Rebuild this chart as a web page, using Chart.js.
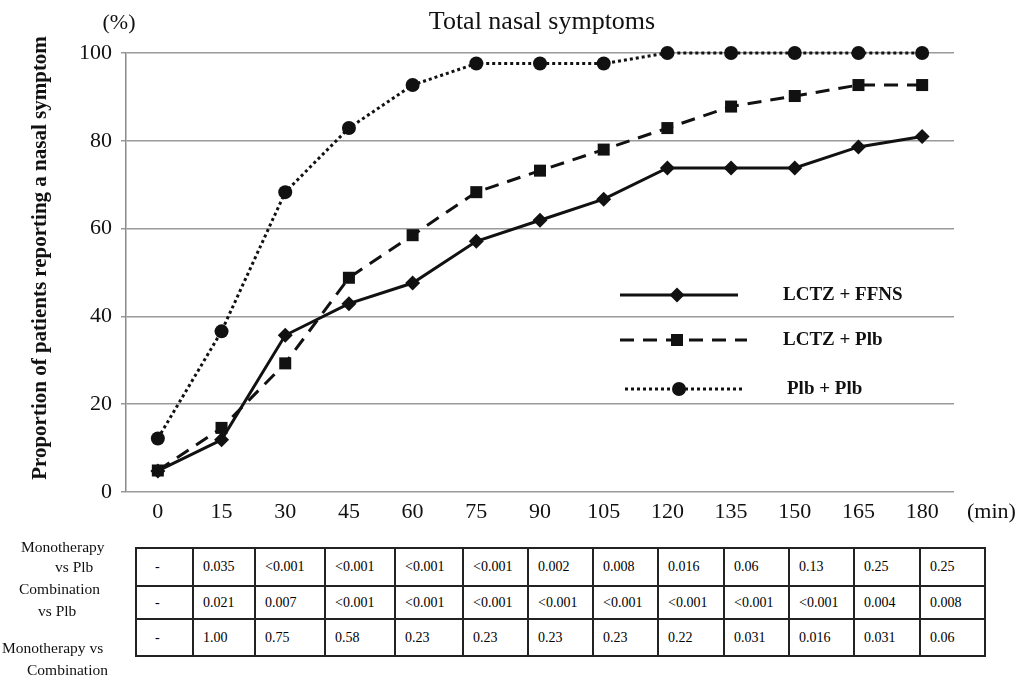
<!DOCTYPE html>
<html>
<head>
<meta charset="utf-8">
<title>Total nasal symptoms</title>
<script src="https://cdn.jsdelivr.net/npm/chart.js@4"></script>
<style>
  body { margin: 0; background: #fff; }
  #wrap { position: relative; width: 1033px; height: 681px; overflow: hidden; font-family: 'Liberation Serif', 'Times New Roman', serif; color: #111; }
  #chartBox { position: absolute; left: 0; top: 0; }
  #pTable { position: absolute; left: 135px; top: 547px; width: 849px; border-collapse: collapse; table-layout: fixed; font-size: 14px; color: #000; }
  #pTable td { border: 2px solid #222; padding: 0 0 0 9px; white-space: nowrap; }
  #pTable td:first-child { padding-left: 18px; }
  .rowLabel { position: absolute; font-size: 15.5px; white-space: nowrap; line-height: 1; }
</style>
</head>
<body>
<div id="wrap">
  <canvas id="chartBox" width="1033" height="540"></canvas>
  <table id="pTable"></table>
  <div id="rowLabels"></div>
</div>
<script>
// ── data ────────────────────────────────────────────────
const TIMES = ['0', '15', '30', '45', '60', '75', '90', '105', '120', '135', '150', '165', '180'];
const LCTZ_FFNS = [4.8, 11.9, 35.7, 42.9, 47.6, 57.1, 61.9, 66.7, 73.8, 73.8, 73.8, 78.6, 81.0];
const LCTZ_PLB  = [4.9, 14.6, 29.3, 48.8, 58.5, 68.3, 73.2, 78.0, 82.9, 87.8, 90.2, 92.7, 92.7];
const PLB_PLB   = [12.2, 36.6, 68.3, 82.9, 92.7, 97.6, 97.6, 97.6, 100, 100, 100, 100, 100];
const SERIES_NAMES = ['LCTZ + FFNS', 'LCTZ + Plb', 'Plb + Plb'];

const P_MONO_VS_PLB  = ['-', '0.035', '<0.001', '<0.001', '<0.001', '<0.001', '0.002', '0.008', '0.016', '0.06', '0.13', '0.25', '0.25'];
const P_COMBO_VS_PLB = ['-', '0.021', '0.007', '<0.001', '<0.001', '<0.001', '<0.001', '<0.001', '<0.001', '<0.001', '<0.001', '0.004', '0.008'];
const P_MONO_VS_COMBO = ['-', '1.00', '0.75', '0.58', '0.23', '0.23', '0.23', '0.23', '0.22', '0.031', '0.016', '0.031', '0.06'];
const ROW_LABELS = [['Monotherapy', 'vs Plb'], ['Combination', 'vs Plb'], ['Monotherapy vs', 'Combination']];

const SERIF = "'Liberation Serif', 'Times New Roman', serif";
const INK = '#111';

// ── p-value table (HTML) ────────────────────────────────
(() => {
  const colW = [57, 62, 70, 70, 68, 65, 65, 65, 66, 65, 65, 66, 65];
  const rowH = [38, 33, 37];
  const table = document.getElementById('pTable');
  const cg = document.createElement('colgroup');
  colW.forEach(w => { const c = document.createElement('col'); c.style.width = w + 'px'; cg.appendChild(c); });
  table.appendChild(cg);
  [P_MONO_VS_PLB, P_COMBO_VS_PLB, P_MONO_VS_COMBO].forEach((row, r) => {
    const tr = document.createElement('tr');
    tr.style.height = rowH[r] + 'px';
    row.forEach(v => { const td = document.createElement('td'); td.textContent = v; tr.appendChild(td); });
    table.appendChild(tr);
  });

  // row labels, line by line (left, top)
  const spots = [[[21, 539], [55, 559]], [[19, 581], [38, 603]], [[2, 640], [27, 662]]];
  const box = document.getElementById('rowLabels');
  ROW_LABELS.forEach((lines, r) => lines.forEach((t, k) => {
    const d = document.createElement('div');
    d.className = 'rowLabel';
    d.textContent = t;
    d.style.left = spots[r][k][0] + 'px';
    d.style.top = spots[r][k][1] + 'px';
    box.appendChild(d);
  }));
})();

// ── extra text + legend drawn on canvas ─────────────────
const decorations = {
  id: 'decorations',
  afterDraw(chart) {
    const ctx = chart.ctx;
    ctx.save();
    ctx.fillStyle = INK;
    ctx.textBaseline = 'middle';

    ctx.font = `26px ${SERIF}`;
    ctx.textAlign = 'center';
    ctx.fillText('Total nasal symptoms', 542, 22);

    ctx.font = `22px ${SERIF}`;
    ctx.fillText('(%)', 119, 23);
    ctx.textAlign = 'left';
    ctx.fillText('(min)', 967, 512);

    // y axis title
    ctx.save();
    ctx.translate(41, 258);
    ctx.rotate(-Math.PI / 2);
    ctx.textAlign = 'center';
    ctx.font = `bold 21px ${SERIF}`;
    ctx.fillText('Proportion of patients reporting a nasal symptom', 0, 0);
    ctx.restore();

    // legend
    const rows = [
      { y: 295, x0: 620, x1: 738, mx: 677, lx: 783 },
      { y: 340, x0: 620, x1: 747, mx: 677, lx: 783 },
      { y: 389, x0: 625, x1: 743, mx: 679, lx: 787 },
    ];
    chart.data.datasets.forEach((ds, i) => {
      const r = rows[i];
      ctx.save();
      ctx.strokeStyle = ds.borderColor;
      ctx.lineWidth = ds.borderWidth;
      ctx.setLineDash(ds.borderDash || []);
      ctx.beginPath();
      ctx.moveTo(r.x0, r.y);
      ctx.lineTo(r.x1, r.y);
      ctx.stroke();
      ctx.restore();
      Chart.helpers.drawPoint(ctx, {
        pointStyle: ds.pointStyle, radius: ds.pointRadius, borderWidth: 0, rotation: 0,
      }, r.mx, r.y);
      ctx.fillStyle = INK;
      ctx.textAlign = 'left';
      ctx.font = `bold 19px ${SERIF}`;
      ctx.fillText(ds.label, r.lx, r.y);
    });
    ctx.restore();
  },
};

// ── chart ───────────────────────────────────────────────
const lineDefaults = {
  borderColor: INK,
  backgroundColor: INK,
  pointBackgroundColor: INK,
  pointBorderWidth: 0,
  borderWidth: 3,
  tension: 0,
  fill: false,
  clip: false,
};

new Chart(document.getElementById('chartBox'), {
  type: 'line',
  data: {
    labels: TIMES,
    datasets: [
      { ...lineDefaults, label: SERIES_NAMES[0], data: LCTZ_FFNS, pointStyle: 'rectRot', pointRadius: 7.5, borderDash: [] },
      { ...lineDefaults, label: SERIES_NAMES[1], data: LCTZ_PLB, pointStyle: 'rect', pointRadius: 8.5, borderDash: [14, 9] },
      { ...lineDefaults, label: SERIES_NAMES[2], data: PLB_PLB, pointStyle: 'circle', pointRadius: 7, borderDash: [3, 3] },
    ],
  },
  options: {
    responsive: false,
    animation: false,
    layout: { padding: { left: 0, right: 79, top: 53, bottom: 0 } },
    plugins: { legend: { display: false }, title: { display: false }, tooltip: { enabled: false } },
    scales: {
      x: {
        type: 'category',
        offset: true,
        grid: { display: false, drawTicks: false },
        border: { display: false },
        ticks: { color: INK, font: { family: SERIF, size: 22 }, padding: 7, maxRotation: 0, autoSkip: false },
        afterFit: s => { s.height = 48; },
      },
      y: {
        min: 0,
        max: 100,
        ticks: { stepSize: 20, color: INK, font: { family: SERIF, size: 22 }, padding: 9 },
        grid: { color: '#9a9a9a', lineWidth: 1.5, tickLength: 5 },
        border: { display: true, color: '#8a8a8a', width: 1.5 },
        afterFit: s => { s.width = 126; },
      },
    },
  },
  plugins: [decorations],
});
</script>
</body>
</html>
